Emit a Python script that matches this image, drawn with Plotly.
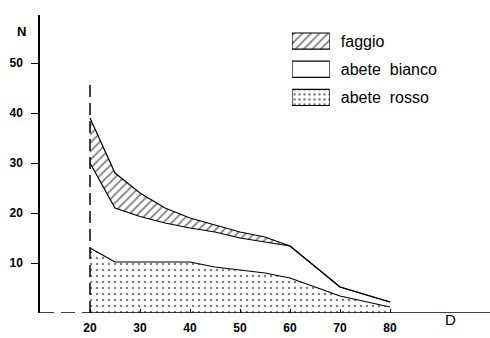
import plotly.graph_objects as go

# Data (diameter class D, number of trees N, stacked)
D = [20, 25, 30, 35, 40, 45, 50, 55, 60, 70, 80]
abete_rosso = [13, 10.2, 10.2, 10.2, 10.2, 9.2, 8.6, 8.0, 7.0, 3.4, 1.2]
abete_bianco = [17, 10.8, 9.1, 7.8, 6.8, 7.0, 6.4, 6.2, 6.4, 1.8, 1.0]
faggio = [9, 7, 4.7, 3, 2, 1.4, 1.2, 1.0, 0, 0, 0]

x_ticks = [20, 30, 40, 50, 60, 70, 80]
y_ticks = [10, 20, 30, 40, 50]
legend_names = ["faggio", "abete  bianco", "abete  rosso"]

FONT = "Liberation Sans"
fig = go.Figure()

line = dict(color="black", width=1.2)
hatch = dict(shape="/", fgcolor="black", bgcolor="white", size=6, solidity=0.3)
dots = dict(shape=".", fgcolor="black", bgcolor="white", size=6, solidity=0.14)

fig.add_trace(go.Scatter(
    x=D, y=abete_rosso, stackgroup="s", mode="lines", line=line,
    fillcolor="white", fillpattern=dots,
    name="abete rosso", showlegend=False))
fig.add_trace(go.Scatter(
    x=D, y=abete_bianco, stackgroup="s", mode="lines", line=line,
    fillcolor="white", name="abete bianco", showlegend=False))
fig.add_trace(go.Scatter(
    x=D, y=faggio, stackgroup="s", mode="lines", line=line,
    fillcolor="white", fillpattern=hatch,
    name="faggio", showlegend=False))

# Legend drawn as a small bar chart with pattern boxes
fig.add_trace(go.Bar(
    x=[1, 1, 1], y=legend_names, orientation="h", xaxis="x2", yaxis="y2",
    marker=dict(color="white", line=dict(color="black", width=1.2),
                pattern=dict(shape=["/", "", "."], fgcolor="black", bgcolor="white",
                             size=[6, 6, 5], solidity=[0.3, 0.2, 0.2])),
    showlegend=False, hoverinfo="skip"))

fig.update_layout(
    width=490, height=338,
    margin=dict(l=40, r=0, t=15, b=25),
    paper_bgcolor="white", plot_bgcolor="white",
    font=dict(family=FONT, color="black"),
    xaxis=dict(range=[10, 100], tickvals=x_ticks, ticktext=[f"<b>{v}</b>" for v in x_ticks],
               ticks="inside", ticklen=4, tickwidth=1, tickcolor="black",
               showline=False, showgrid=False, zeroline=False,
               tickfont=dict(size=12, family=FONT), ticklabelstandoff=6),
    yaxis=dict(range=[0, 59.6], tickvals=y_ticks, ticktext=[f"<b>{v}</b>" for v in y_ticks],
               ticks="outside", ticklen=7, tickwidth=1, tickcolor="black",
               showline=True, linecolor="black", linewidth=1.5,
               showgrid=False, zeroline=False,
               tickfont=dict(size=12, family=FONT), ticklabelstandoff=6),
    xaxis2=dict(domain=[0.56, 0.644], range=[0, 1], visible=False, anchor="y2"),
    yaxis2=dict(domain=[0.676, 0.96], anchor="x2", side="right", autorange="reversed",
                showline=False, showgrid=False, zeroline=False, ticks="",
                tickfont=dict(size=16, family=FONT), ticklabelstandoff=10),
    bargap=0.43,
    shapes=[
        dict(type="line", xref="x", yref="y", x0=20, x1=100, y0=0, y1=0,
             line=dict(color="black", width=1.3)),
        dict(type="line", xref="x", yref="y", x0=10, x1=20, y0=0, y1=0,
             line=dict(color="black", width=1.3, dash="14px,7px")),
        dict(type="line", xref="x", yref="y", x0=20, x1=20, y0=0, y1=46.8,
             line=dict(color="black", width=1.5, dash="12px,6px")),
    ],
    annotations=[
        dict(text="<b>N</b>", xref="paper", yref="paper", x=-0.056, y=0.977,
             showarrow=False, font=dict(size=13, family=FONT)),
        dict(text="D", xref="paper", yref="paper", x=0.929, y=-0.057,
             showarrow=False, font=dict(size=15, family=FONT)),
    ],
)

fig.write_html("out.html")
